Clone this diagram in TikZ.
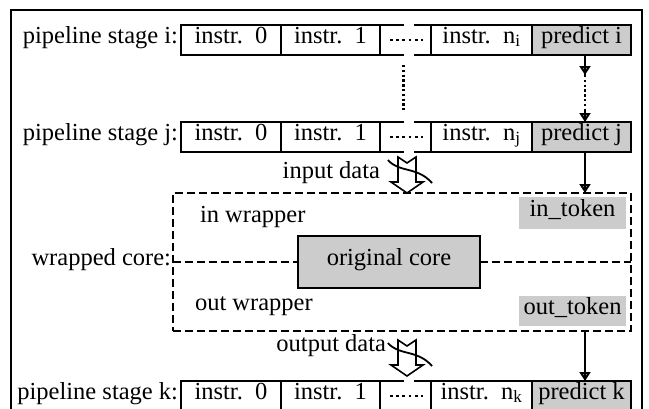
\documentclass[tikz,border=0pt]{standalone}
\usepackage{fontspec}
\setmainfont{Liberation Serif}
\usetikzlibrary{arrows.meta,calc}
\tikzset{
  txt/.style={font=\fontsize{24.5pt}{29pt}\selectfont, inner sep=0pt, outer sep=0pt, text height=0.75em, text depth=0.1em},
  cell/.style={txt, draw, line width=1.5pt, minimum height=30pt},
  gapcell/.style={inner sep=0pt, outer sep=0pt, minimum height=30pt},
  predcell/.style={cell, fill=gray!40},
  stagelabel/.style={txt, anchor=east},
  rowline/.style={line width=1.5pt},
  dotrow/.style={line width=2.8pt, dash pattern=on 2.8pt off 3.4pt},
  dotcol/.style={line width=2.6pt, dash pattern=on 2.4pt off 2.4pt},
  link/.style={line width=2pt},
  linktip/.style={line width=2pt, -{Triangle[open, length=9pt, width=11pt]}},
  wrapline/.style={line width=2pt, dash pattern=on 8pt off 4pt},
  wrapbox/.style={draw, wrapline, inner sep=0pt, outer sep=0pt},
  corebox/.style={txt, draw, line width=2pt, fill=gray!40},
  token/.style={txt, fill=gray!40, minimum width=107pt},
  blockar/.style={line width=1.6pt, fill=white, line join=miter},
  crossln/.style={line width=1.8pt},
}
\newcommand{\myrow}[3]{%
  \node[stagelabel] (#1lab) at (178,#2) {pipeline stage #3:};
  \node[cell, minimum width=100pt] (#1a) at (231,#2) {instr.\ \ 0};
  \node[cell, minimum width=99pt] (#1b) at (330.5,#2) {instr.\ \ 1};
  \node[gapcell, minimum width=51pt] (#1d) at (405.5,#2) {};
  \node[cell, minimum width=101pt] (#1n) at (481.5,#2) {instr.\ \ n\textsubscript{#3}};
  \node[predcell, minimum width=99pt] (#1p) at (581.5,#2) {predict #3};
  \draw[rowline] (#1d.north west) -- ++(24,0) (#1d.north east) -- ++(-17,0)
                 (#1d.south west) -- ++(24,0) (#1d.south east) -- ++(-17,0);
  \draw[dotrow] ($(#1d.west)+(10,0)$) -- ++(33,0);
}
\newcommand{\hollowarrow}[2]{%
  \begin{scope}[shift={(#1,#2)}]
    \draw[blockar] (-9,0) -- (0,6) -- (9,0) -- (9,25) -- (16,25) -- (0,36) -- (-16,25) -- (-9,25) -- cycle;
    \draw[crossln] (-19,3) .. controls (-8,16) and (10,9) .. (25,26);
  \end{scope}}
\begin{document}
\begin{tikzpicture}[x=1pt,y=-1pt]
  \clip (0,0) rectangle (649,408);
  \fill[white] (0,0) rectangle (649,408);
  \draw[line width=2.5pt] (11,10) rectangle (642,430);

  \myrow{i}{40}{i}
  \myrow{j}{137}{j}
  \myrow{k}{396}{k}

  % vertical ellipsis between rows
  \draw[dotcol] ($(id.south)+(-2,10)$) -- ($(jd.north)+(-2,-12)$);

  % wrapped core
  \node[wrapbox, minimum width=458pt, minimum height=138pt] (wrap) at (402,262) {};
  \node[corebox, minimum width=182pt, minimum height=52pt] (core) at (389,262) {original core};
  \draw[wrapline] (wrap.west) -- (core.west);
  \draw[wrapline] (core.east) -- (wrap.east);
  \node[stagelabel] (wlab) at (171,262) {wrapped core:};
  \node[txt, anchor=west] (inw) at (200,219) {in wrapper};
  \node[txt, anchor=west] (outw) at (195,307) {out wrapper};
  \node[token, minimum height=32pt] (intok) at (572.5,213) {in\_token};
  \node[token, minimum height=30pt] (outtok) at (572.5,311) {out\_token};

  % data labels and hollow arrows
  \node[txt, anchor=east] (indata) at (380,175) {input data};
  \node[txt, anchor=east] (outdata) at (386,348) {output data};
  \hollowarrow{407}{157}
  \hollowarrow{407}{340}

  % predict token chain
  \coordinate (ar) at (585,0);
  \coordinate (m1) at (585,75);
  \coordinate (m2) at (585,110);
  \draw[link] (ip.south -| ar) -- (m1);
  \draw[linktip] (ip.south -| ar) -- (m1);
  \draw[dotcol] (m1) -- (m2);
  \draw[link] (m2) -- (jp.north -| ar);
  \draw[linktip] (m2) -- (jp.north -| ar);
  \draw[link] (jp.south -| ar) -- (wrap.north -| ar);
  \draw[linktip] (jp.south -| ar) -- (wrap.north -| ar);
  \draw[link] (wrap.south -| ar) -- (kp.north -| ar);
  \draw[linktip] (wrap.south -| ar) -- (kp.north -| ar);
\end{tikzpicture}
\end{document}
